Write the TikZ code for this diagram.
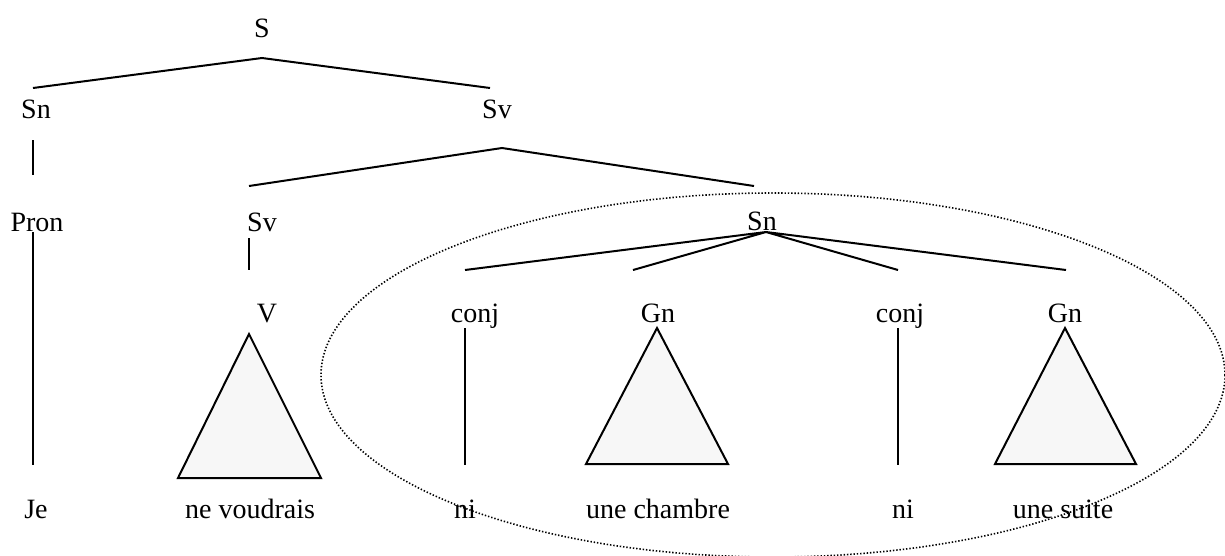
\documentclass[tikz,border=0pt]{standalone}
\usepackage{fontspec}
\setmainfont{Liberation Serif}
\begin{document}
\begin{tikzpicture}[x=1pt,y=-1pt,
  lab/.style={anchor=base,inner sep=0pt,font=\fontsize{28}{32}\selectfont},
  edge/.style={line width=2pt},
  tri/.style={line width=2pt,fill=black!3,line join=miter},
  dotline/.style={line width=1.6pt,dash pattern=on 1.4pt off 1.9pt}]
\useasboundingbox (0,0) rectangle (1225,555);
% labels
\node[lab] (S) at (262,37) {S};
\node[lab] (Sn1) at (36,118) {Sn};
\node[lab] (Sv1) at (497,118) {Sv};
\node[lab] (Pron) at (37,231) {Pron};
\node[lab] (Sv2) at (262,231) {Sv};
\node[lab] (Sn2) at (762,230) {Sn};
\node[lab] (V) at (267,322) {V};
\node[lab] (conj1) at (475,322) {conj};
\node[lab] (Gn1) at (658,322) {Gn};
\node[lab] (conj2) at (900,322) {conj};
\node[lab] (Gn2) at (1065,322) {Gn};
\node[lab] (Je) at (36,518) {Je};
\node[lab] (nev) at (250,518) {ne voudrais};
\node[lab] (ni1) at (465,518) {ni};
\node[lab] (chambre) at (658,518) {une chambre};
\node[lab] (ni2) at (903,518) {ni};
\node[lab] (suite) at (1063,518) {une suite};
% connector points
\coordinate (S-d) at (262,58);
\coordinate (Sn1-u) at (33,88);
\coordinate (Sv1-u) at (490,88);
\coordinate (Sn1-d) at (33,140);
\coordinate (Pron-u) at (33,175);
\coordinate (Sv1-d) at (502,148);
\coordinate (Sv2-u) at (249,186);
\coordinate (Sn2-u) at (754,186);
\coordinate (Pron-d) at (33,232);
\coordinate (Je-u) at (33,465);
\coordinate (Sv2-d) at (249,238);
\coordinate (V-u) at (249,270);
\coordinate (Sn2-d) at (766,232);
\coordinate (conj1-u) at (465,270);
\coordinate (Gn1-u) at (633,270);
\coordinate (conj2-u) at (898,270);
\coordinate (Gn2-u) at (1066,270);
\coordinate (conj1-d) at (465,328);
\coordinate (ni1-u) at (465,465);
\coordinate (conj2-d) at (898,328);
\coordinate (ni2-u) at (898,465);
% ellipse
\draw[dotline] (773,375) ellipse [x radius=452, y radius=182];
% edges
\draw[edge] (Sn1-u) -- (S-d) -- (Sv1-u);
\draw[edge] (Sn1-d) -- (Pron-u);
\draw[edge] (Sv2-u) -- (Sv1-d) -- (Sn2-u);
\draw[edge] (Pron-d) -- (Je-u);
\draw[edge] (Sv2-d) -- (V-u);
\draw[edge] (conj1-u) -- (Sn2-d) -- (Gn1-u);
\draw[edge] (conj2-u) -- (Sn2-d) -- (Gn2-u);
\draw[edge] (conj1-d) -- (ni1-u);
\draw[edge] (conj2-d) -- (ni2-u);
% triangles
\draw[tri] (249,334) -- (178,478) -- (321,478) -- cycle;
\draw[tri] (657,328) -- (586,464) -- (728,464) -- cycle;
\draw[tri] (1065,328) -- (995,464) -- (1136,464) -- cycle;
\end{tikzpicture}
\end{document}
